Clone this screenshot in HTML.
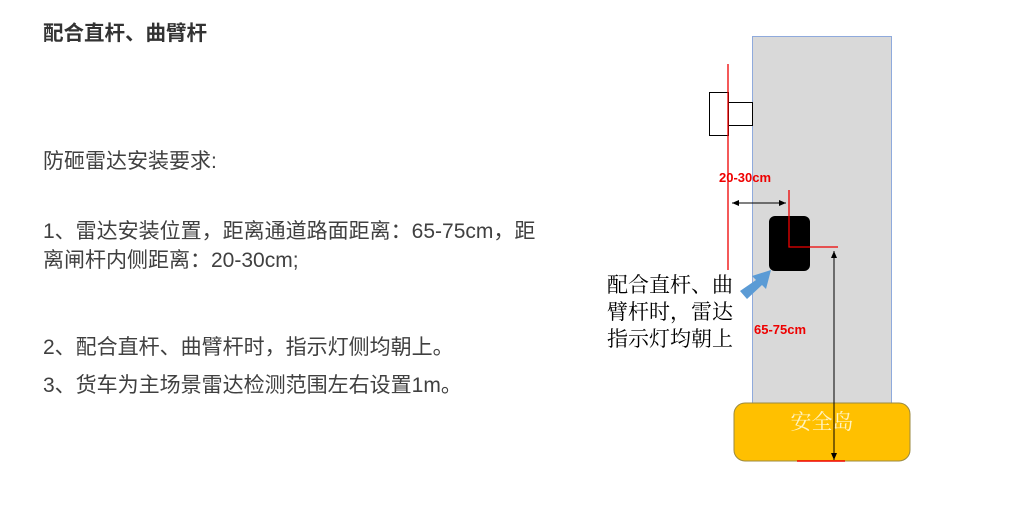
<!DOCTYPE html>
<html><head><meta charset="utf-8"><style>
body{margin:0;width:1024px;height:512px;background:#fff;position:relative;overflow:hidden;font-family:"Liberation Sans","Noto Sans CJK SC",sans-serif;}
.t{position:absolute;left:43px;color:#404040;font-size:21px;white-space:nowrap;line-height:1;}
.s{font-family:"Noto Serif CJK SC",serif;}
</style></head><body>
<div class="t" style="top:24px;font-size:20.5px;font-weight:bold;color:#333">配合直杆、曲臂杆</div>
<div class="t" style="top:151px">防砸雷达安装要求:</div>
<div class="t" style="top:221px">1、雷达安装位置，距离通道路面距离：65-75cm，距</div>
<div class="t" style="top:250px">离闸杆内侧距离：20-30cm;</div>
<div class="t" style="top:337px">2、配合直杆、曲臂杆时，指示灯侧均朝上。</div>
<div class="t" style="top:375px">3、货车为主场景雷达检测范围左右设置1m。</div>
<svg width="1024" height="512" style="position:absolute;left:0;top:0">
<defs><marker id="a" markerWidth="8" markerHeight="8" refX="7" refY="4" orient="auto"><path d="M0,1 L7,4 L0,7z" fill="#000"/></marker></defs>
<rect x="752.5" y="36.5" width="139" height="370" fill="#d9d9d9" stroke="#8faadc"/>
<rect x="734" y="403" width="176" height="58" rx="11" fill="#ffc000" stroke="#9b8a40"/>
<text x="822" y="429" text-anchor="middle" font-size="21" fill="#fff3c0" class="s">安全岛</text>
<rect x="709.5" y="92.5" width="19" height="43" fill="#fff" stroke="#000"/>
<rect x="728.5" y="102.5" width="24" height="23" fill="#fff" stroke="#000"/>
<line x1="728" y1="64" x2="728" y2="270" stroke="#e00" stroke-width="1.3"/>
<text x="719" y="182" font-size="13" font-weight="bold" fill="#e00">20-30cm</text>
<line x1="732" y1="203" x2="786" y2="203" stroke="#000" marker-end="url(#a)"/>
<line x1="786" y1="203" x2="732" y2="203" stroke="#000" marker-end="url(#a)"/>
<rect x="769" y="216" width="41" height="55" rx="6" fill="#000"/>
<polyline points="789,190 789,247 838,247" fill="none" stroke="#e00" stroke-width="1.3"/>
<line x1="834" y1="460" x2="834" y2="251" stroke="#000" marker-end="url(#a)"/>
<line x1="834" y1="252" x2="834" y2="460" stroke="#000" marker-end="url(#a)"/>
<line x1="797" y1="461" x2="845" y2="461" stroke="#e00" stroke-width="1.5"/>
<path d="M740,291 L756,280 L752,276 L771,270 L766,289 L762,285 L747,299z" fill="#5b9bd5"/>
<text x="754" y="334" font-size="13" font-weight="bold" fill="#e00">65-75cm</text>
<g class="s" font-size="21" fill="#000">
<text x="607" y="292">配合直杆、曲</text>
<text x="607" y="319">臂杆时，雷达</text>
<text x="607" y="346">指示灯均朝上</text>
</g>
</svg>
</body></html>
